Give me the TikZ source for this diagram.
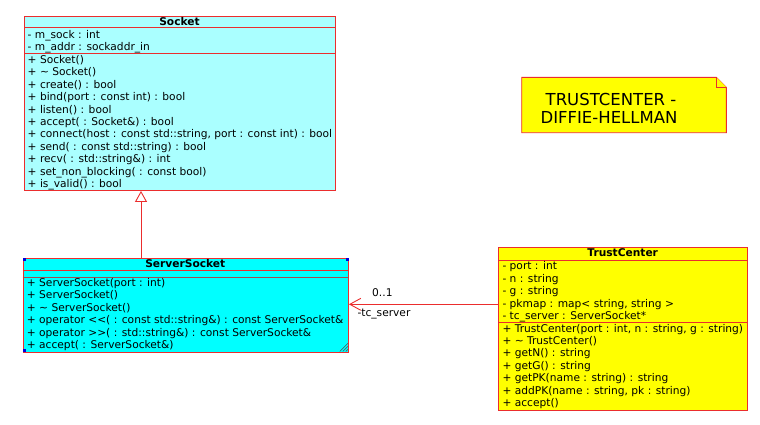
\documentclass[tikz,border=0pt]{standalone}
\usepackage{fontspec}
\setmainfont{DejaVu Sans}
\usetikzlibrary{arrows.meta,calc}
\definecolor{umlred}{RGB}{235,45,45}
\definecolor{sepgray}{RGB}{160,80,80}
\definecolor{sockfill}{RGB}{170,255,255}
\definecolor{servfill}{RGB}{0,255,255}
\definecolor{tcfill}{RGB}{255,255,0}
\definecolor{handle}{RGB}{0,0,220}
\begin{document}
\begin{tikzpicture}[x=1pt,y=-1pt,
  classbox/.style={draw=umlred, line width=0.9pt, rectangle, inner sep=0pt, anchor=north west},
  sepline/.style={draw=umlred, line width=0.9pt},
  txt/.style={inner sep=0pt, anchor=base west, font=\fontsize{10.65}{12.5}\selectfont},
  ttl/.style={inner sep=0pt, anchor=base, font=\fontsize{10.65}{12.5}\selectfont\bfseries},
  notetxt/.style={inner sep=0pt, anchor=base, font=\fontsize{16.5}{18.3}\selectfont},
  conn/.style={draw=umlred, line width=0.9pt}]
\useasboundingbox (0,0) rectangle (760,424);

% ---------------- Socket ----------------
\node[classbox, fill=sockfill, minimum width=311pt, minimum height=174.2pt] (socket) at (24,15.8) {};
\node[ttl] (sockettitle) at (179.5,25) {Socket};
\draw[sepline] ($(socket.north west)+(0,11.6)$) -- ($(socket.north east)+(0,11.6)$);
\draw[sepline] ($(socket.north west)+(0,37.6)$) -- ($(socket.north east)+(0,37.6)$);
\foreach \t [count=\i from 0] in {{- m\_sock : int},{- m\_addr : sockaddr\_in}}
  \node[txt] (sa\i) at (27.5,{38.2+12.4*\i}) {\t};
\foreach \t [count=\i from 0] in {
  {+ Socket()},
  {+ \textasciitilde{} Socket()},
  {+ create() : bool},
  {+ bind(port : const int) : bool},
  {+ listen() : bool},
  {+ accept( : Socket\&) : bool},
  {+ connect(host : const std::string, port : const int) : bool},
  {+ send( : const std::string) : bool},
  {+ recv( : std::string\&) : int},
  {+ set\_non\_blocking( : const bool)},
  {+ is\_valid() : bool}}
  \node[txt] (sm\i) at (27.5,{63.5+12.4*\i}) {\t};

% ---------------- ServerSocket ----------------
\node[classbox, fill=servfill, minimum width=325.3pt, minimum height=93.2pt] (server) at (22.7,258.3) {};
\node[ttl] (servertitle) at (185.3,267.7) {ServerSocket};
\draw[sepline] ($(server.north west)+(0,12.4)$) -- ($(server.north east)+(0,12.4)$);
\draw[sepline, draw=sepgray] ($(server.north west)+(0,18.8)$) -- ($(server.north east)+(0,18.8)$);
\foreach \t [count=\i from 0] in {
  {+ ServerSocket(port : int)},
  {+ ServerSocket()},
  {+ \textasciitilde{} ServerSocket()},
  {+ operator <\kern0pt<( : const std::string\&) : const ServerSocket\&},
  {+ operator >\kern0pt>( : std::string\&) : const ServerSocket\&},
  {+ accept( : ServerSocket\&)}}
  \node[txt] (ssm\i) at (26.7,{286+12.5*\i}) {\t};
% selection handles
\fill[handle] (server.north west) rectangle ++(3,3);
\fill[handle] (server.north east) rectangle ++(-3,3);
\fill[handle] (server.south west) rectangle ++(3,-3);
\foreach \d in {3,6,9}
  \draw[black!70, line width=0.5pt] ($(server.south east)+(-\d,-1)$) -- ($(server.south east)+(-1,-\d)$);

% ---------------- TrustCenter ----------------
\node[classbox, fill=tcfill, minimum width=248.7pt, minimum height=162.7pt] (trust) at (498.3,247.3) {};
\node[ttl] (trusttitle) at (622.7,256.7) {TrustCenter};
\draw[sepline] ($(trust.north west)+(0,13.4)$) -- ($(trust.north east)+(0,13.4)$);
\draw[sepline] ($(trust.north west)+(0,74.7)$) -- ($(trust.north east)+(0,74.7)$);
\foreach \t [count=\i from 0] in {
  {- port : int},
  {- n : string},
  {- g : string},
  {- pkmap : map< string, string >},
  {- tc\_server : ServerSocket*}}
  \node[txt] (ta\i) at (502.3,{269.6+12.5*\i}) {\t};
\foreach \t [count=\i from 0] in {
  {+ TrustCenter(port : int, n : string, g : string)},
  {+ \textasciitilde{} TrustCenter()},
  {+ getN() : string},
  {+ getG() : string},
  {+ getPK(name : string) : string},
  {+ addPK(name : string, pk : string)},
  {+ accept()}}
  \node[txt] (tm\i) at (502.3,{332+12.45*\i}) {\t};

% ---------------- Note ----------------
\node[inner sep=0pt, minimum width=204.3pt, minimum height=55pt, anchor=north west] (note) at (521.7,77.3) {};
\draw[umlred, line width=0.9pt, fill=tcfill]
  (note.north west) -- ($(note.north east)+(-10,0)$) -- ($(note.north east)+(0,10)$)
  -- (note.south east) -- (note.south west) -- cycle;
\draw[umlred, line width=0.9pt, fill=tcfill]
  ($(note.north east)+(-10,0)$) -- ($(note.north east)+(-10,10)$) -- ($(note.north east)+(0,10)$);
\node[notetxt] (note1) at (611,105) {TRUSTCENTER -};
\node[notetxt] (note2) at (609,123.3) {DIFFIE-HELLMAN};

% ---------------- Connectors ----------------
\coordinate (inh) at (141,0);
\draw[conn, -{Triangle[length=11pt,width=12pt,fill=white]}] (server.north -| inh) -- (socket.south -| inh);
\coordinate (assoc) at (0,304.3);
\draw[conn, -{Straight Barb[length=11pt,width=12pt]}] (trust.west |- assoc) -- (server.east |- assoc);
\node[txt] (mult) at (372,296) {0..1};
\node[txt] (role) at (357.3,316.7) {-tc\_server};
\end{tikzpicture}
\end{document}
